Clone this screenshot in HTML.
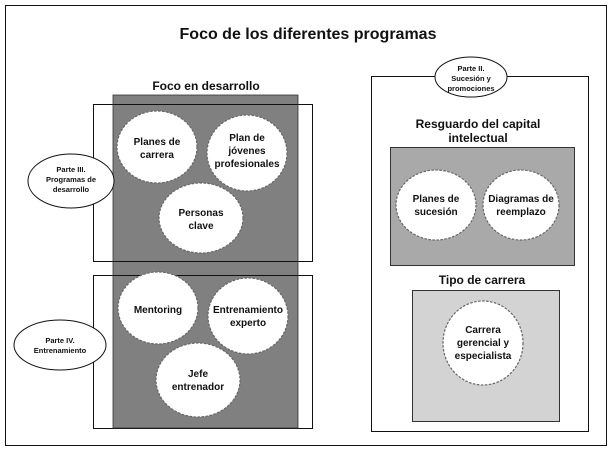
<!DOCTYPE html>
<html><head><meta charset="utf-8"><style>
html,body{margin:0;padding:0;background:#fff;}
svg{display:block;}
text{font-family:"Liberation Sans",Arial,sans-serif;font-weight:bold;fill:#111;text-anchor:middle;}
.e{fill:#fff;stroke:#666;stroke-width:1.2;stroke-dasharray:2.5 1.5;}
.s{fill:#fff;stroke:#111;stroke-width:1;}
</style></head><body>
<svg width="615" height="451" viewBox="0 0 615 451" xmlns="http://www.w3.org/2000/svg">
<rect x="5.5" y="5.5" width="601" height="440" fill="#fff" stroke="#111"/>
<text x="308" y="39" font-size="16">Foco de los diferentes programas</text>

<text x="206" y="90" font-size="12">Foco en desarrollo</text>
<rect x="113" y="95" width="185" height="333" fill="#808080"/>
<rect x="93.5" y="104.5" width="219" height="157" fill="none" stroke="#111"/>
<rect x="93.5" y="275.5" width="219" height="153" fill="none" stroke="#111"/>
<rect x="113" y="95" width="185" height="333" fill="none" stroke="#333" stroke-width="0.8"/>

<ellipse class="e" cx="157" cy="147" rx="40" ry="36"/>
<text x="157" y="145" font-size="10">Planes de</text><text x="157" y="158" font-size="10">carrera</text>
<ellipse class="e" cx="247" cy="153" rx="40" ry="38"/>
<text x="247" y="141" font-size="10">Plan de</text><text x="247" y="154" font-size="10">jóvenes</text><text x="247" y="167" font-size="10">profesionales</text>
<ellipse class="e" cx="201" cy="218" rx="42" ry="35"/>
<text x="201" y="216" font-size="10">Personas</text><text x="201" y="229" font-size="10">clave</text>

<ellipse class="e" cx="158" cy="308" rx="40" ry="36"/>
<text x="158" y="313" font-size="10">Mentoring</text>
<ellipse class="e" cx="248" cy="316" rx="40" ry="38"/>
<text x="248" y="313" font-size="10">Entrenamiento</text><text x="248" y="326" font-size="10">experto</text>
<ellipse class="e" cx="198" cy="380" rx="42" ry="37"/>
<text x="198" y="377" font-size="10">Jefe</text><text x="198" y="390" font-size="10">entrenador</text>

<ellipse class="s" cx="71" cy="181" rx="43" ry="27"/>
<text x="71" y="172" font-size="7.5">Parte III.</text><text x="71" y="182" font-size="7.5">Programas de</text><text x="71" y="192" font-size="7.5">desarrollo</text>
<ellipse class="s" cx="60" cy="345" rx="46" ry="25"/>
<text x="60" y="343" font-size="7.5">Parte IV.</text><text x="60" y="353" font-size="7.5">Entrenamiento</text>

<rect x="371.5" y="76.5" width="217" height="355" fill="#fff" stroke="#111"/>
<ellipse class="s" cx="471" cy="77" rx="36" ry="20"/>
<text x="471" y="71" font-size="7.5">Parte II.</text><text x="471" y="81" font-size="7.5">Sucesión y</text><text x="471" y="91" font-size="7.5">promociones</text>

<text x="478" y="128" font-size="12">Resguardo del capital</text>
<text x="478" y="142" font-size="12">intelectual</text>
<rect x="390.5" y="147.5" width="184" height="118" fill="#a9a9a9" stroke="#333"/>
<ellipse class="e" cx="436" cy="205" rx="40" ry="35"/>
<text x="436" y="202" font-size="10">Planes de</text><text x="436" y="215" font-size="10">sucesión</text>
<ellipse class="e" cx="521" cy="205" rx="38" ry="35"/>
<text x="521" y="202" font-size="10">Diagramas de</text><text x="521" y="215" font-size="10">reemplazo</text>

<text x="482" y="284" font-size="12">Tipo de carrera</text>
<rect x="412.5" y="290.5" width="147" height="131" fill="#d3d3d3" stroke="#333"/>
<ellipse class="e" cx="483" cy="343" rx="40" ry="42"/>
<text x="483" y="333" font-size="10">Carrera</text><text x="483" y="346" font-size="10">gerencial y</text><text x="483" y="359" font-size="10">especialista</text>
</svg>
</body></html>
